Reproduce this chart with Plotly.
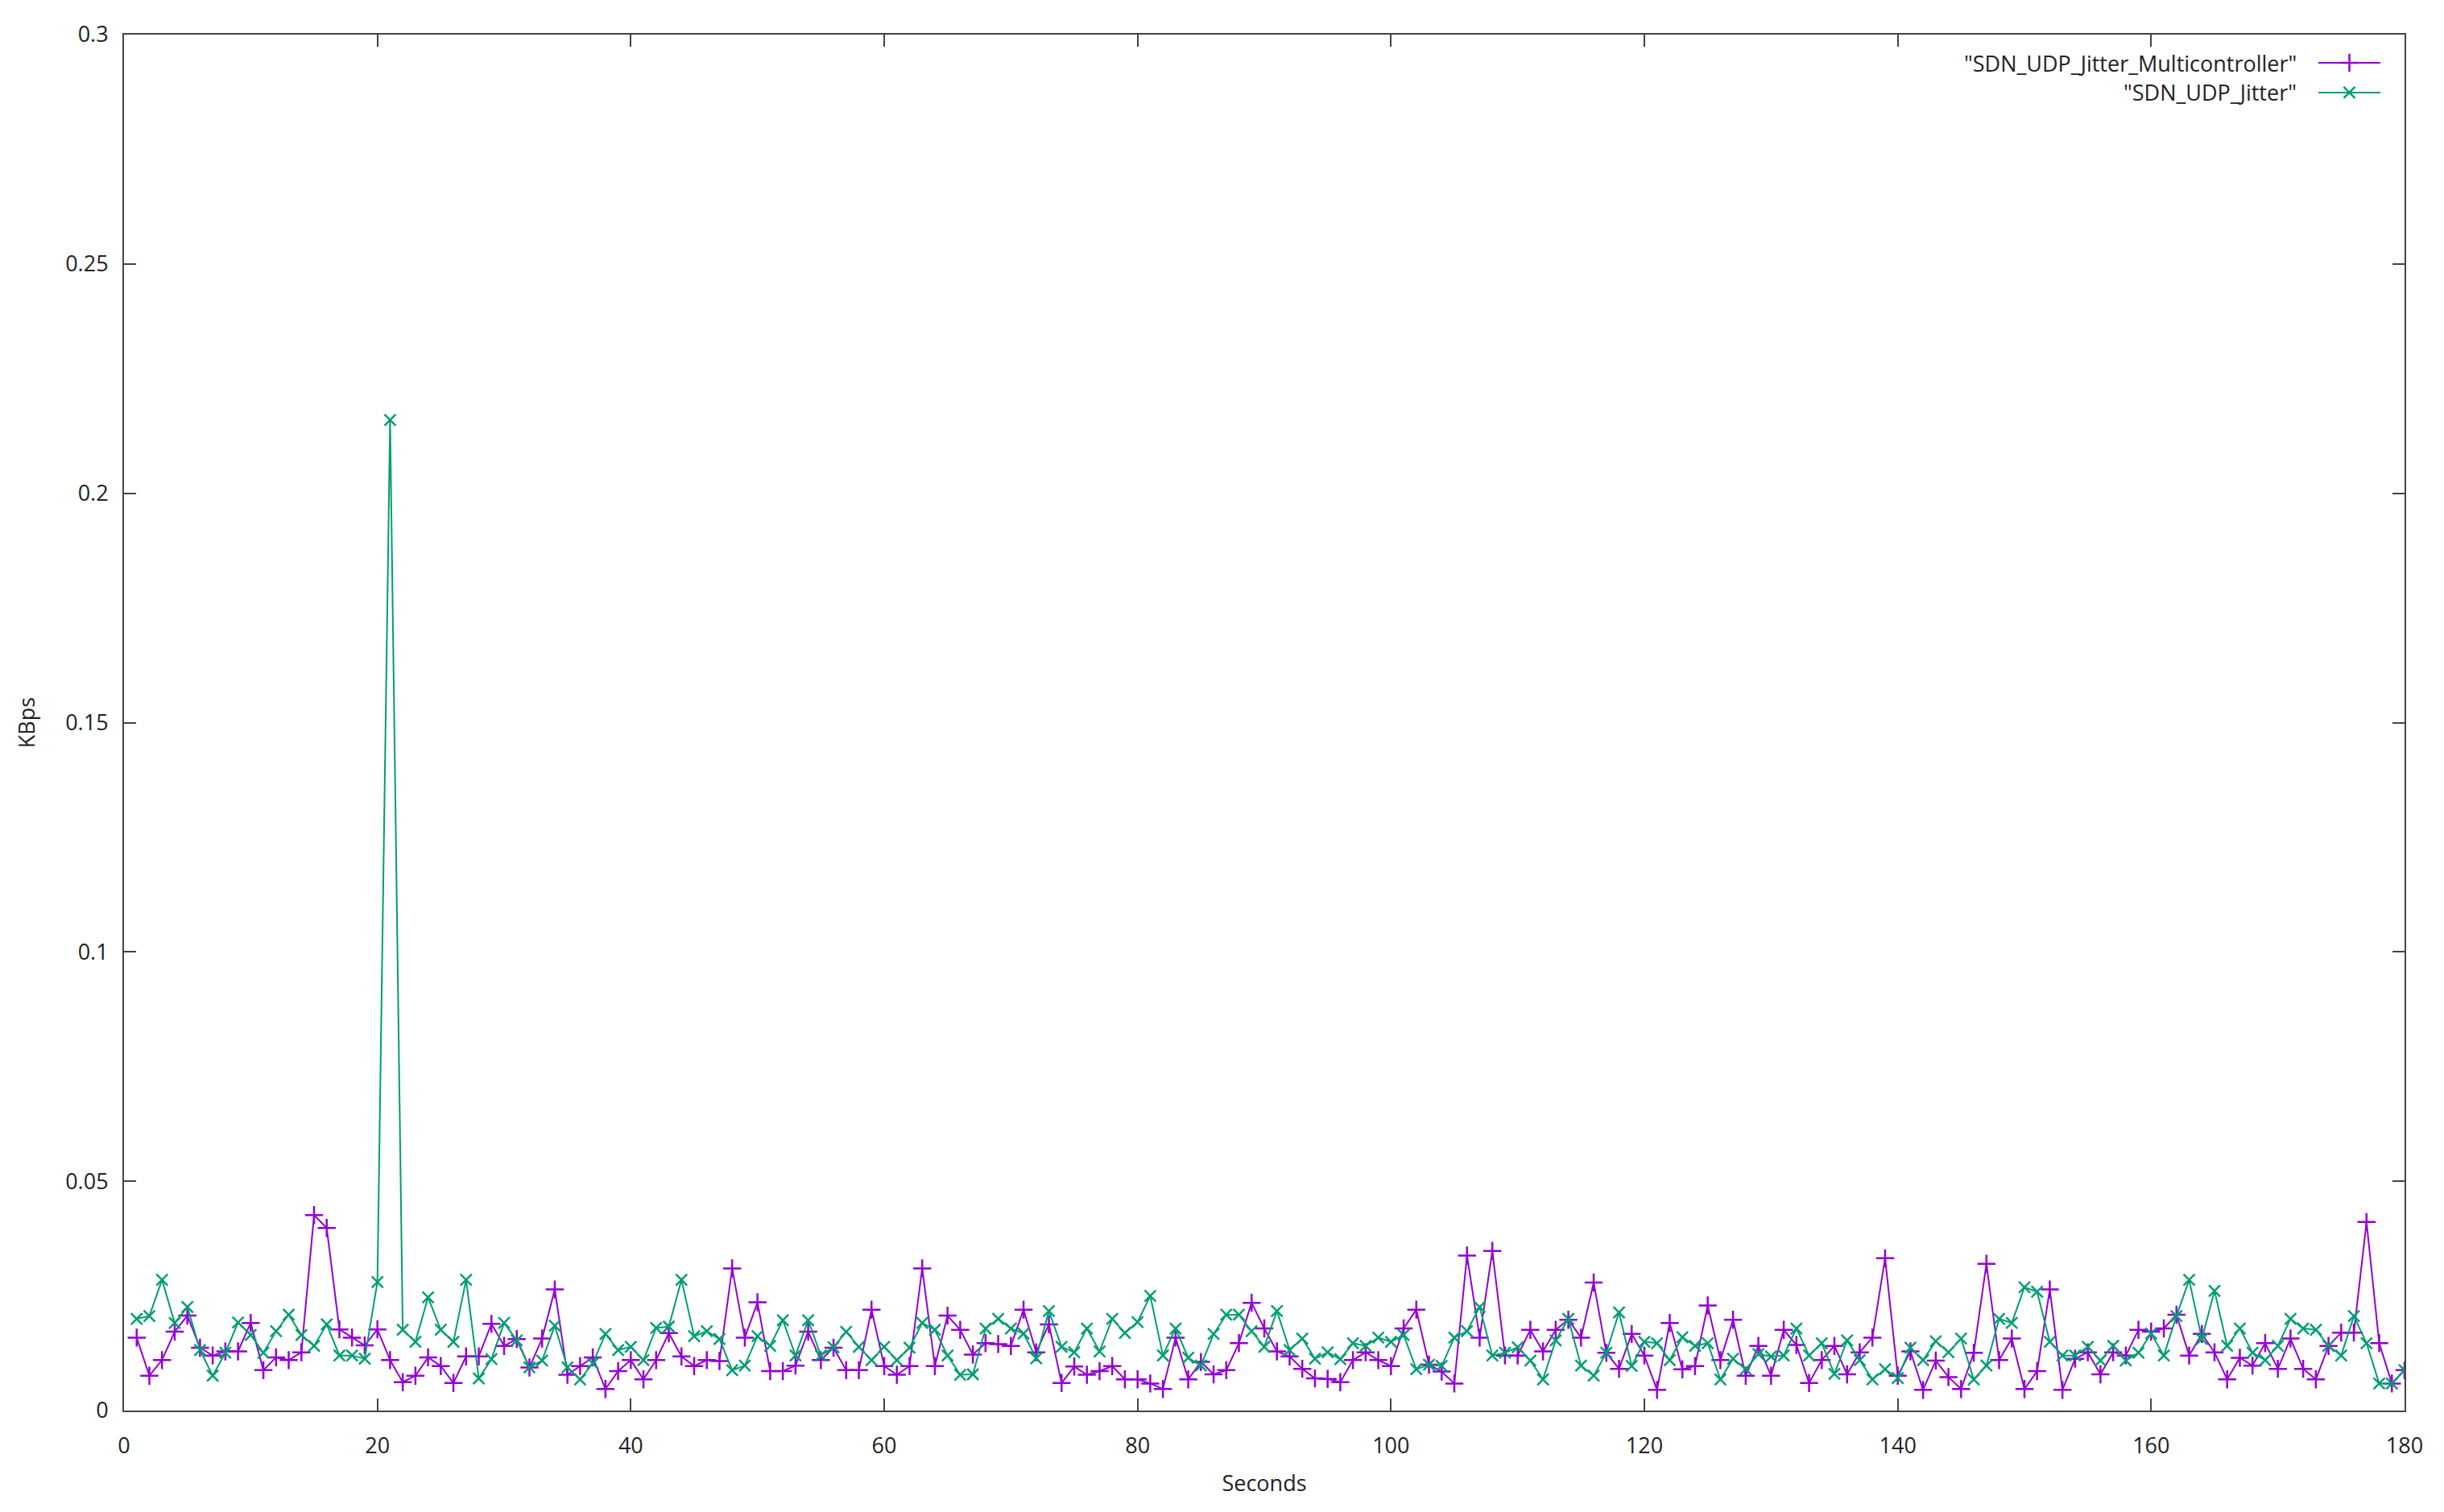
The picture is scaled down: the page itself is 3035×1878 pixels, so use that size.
import plotly.graph_objects as go

# seconds 1..180, jitter values (KBps)
seconds = list(range(1, 181))

jitter_multicontroller = [
    0.0159, 0.0076, 0.0110, 0.0172, 0.0207, 0.0137, 0.0120, 0.0129, 0.0129, 0.0191,
    0.0088, 0.0116, 0.0110, 0.0127, 0.0426, 0.0398, 0.0177, 0.0159, 0.0142, 0.0177,
    0.0110, 0.0062, 0.0076, 0.0116, 0.0097, 0.0060, 0.0118, 0.0118, 0.0189, 0.0141,
    0.0156, 0.0094, 0.0157, 0.0264, 0.0078, 0.0097, 0.0116, 0.0047, 0.0086, 0.0110,
    0.0068, 0.0110, 0.0169, 0.0118, 0.0097, 0.0110, 0.0108, 0.0310, 0.0159, 0.0236,
    0.0086, 0.0086, 0.0098, 0.0172, 0.0110, 0.0137, 0.0088, 0.0088, 0.0220, 0.0097,
    0.0078, 0.0097, 0.0310, 0.0097, 0.0207, 0.0176, 0.0122, 0.0147, 0.0145, 0.0141,
    0.0220, 0.0127, 0.0188, 0.0060, 0.0096, 0.0078, 0.0086, 0.0097, 0.0068, 0.0068,
    0.0059, 0.0047, 0.0159, 0.0068, 0.0106, 0.0079, 0.0088, 0.0147, 0.0235, 0.0179,
    0.0129, 0.0118, 0.0091, 0.0070, 0.0069, 0.0062, 0.0110, 0.0127, 0.0110, 0.0097,
    0.0179, 0.0220, 0.0100, 0.0085, 0.0059, 0.0338, 0.0159, 0.0348, 0.0120, 0.0120,
    0.0176, 0.0129, 0.0176, 0.0198, 0.0159, 0.0279, 0.0126, 0.0091, 0.0167, 0.0120,
    0.0045, 0.0191, 0.0090, 0.0097, 0.0229, 0.0110, 0.0198, 0.0076, 0.0141, 0.0076,
    0.0176, 0.0143, 0.0060, 0.0110, 0.0141, 0.0079, 0.0127, 0.0159, 0.0332, 0.0076,
    0.0129, 0.0045, 0.0109, 0.0073, 0.0047, 0.0126, 0.0320, 0.0110, 0.0157, 0.0047,
    0.0086, 0.0264, 0.0045, 0.0113, 0.0127, 0.0079, 0.0127, 0.0120, 0.0176, 0.0172,
    0.0179, 0.0209, 0.0120, 0.0167, 0.0127, 0.0068, 0.0115, 0.0098, 0.0147, 0.0091,
    0.0157, 0.0091, 0.0068, 0.0141, 0.0170, 0.0170, 0.0411, 0.0147, 0.0059, 0.0088,
]

jitter_single = [
    0.0200, 0.0206, 0.0285, 0.0191, 0.0226, 0.0132, 0.0076, 0.0126, 0.0192, 0.0165,
    0.0126, 0.0173, 0.0209, 0.0165, 0.0141, 0.0188, 0.0120, 0.0120, 0.0113, 0.0280,
    0.2160, 0.0176, 0.0150, 0.0247, 0.0176, 0.0150, 0.0285, 0.0070, 0.0112, 0.0191,
    0.0153, 0.0094, 0.0109, 0.0185, 0.0094, 0.0068, 0.0103, 0.0167, 0.0132, 0.0139,
    0.0110, 0.0180, 0.0183, 0.0285, 0.0162, 0.0173, 0.0156, 0.0088, 0.0098, 0.0162,
    0.0141, 0.0197, 0.0120, 0.0197, 0.0120, 0.0138, 0.0172, 0.0139, 0.0110, 0.0139,
    0.0110, 0.0137, 0.0191, 0.0176, 0.0120, 0.0078, 0.0079, 0.0179, 0.0200, 0.0179,
    0.0168, 0.0114, 0.0217, 0.0139, 0.0127, 0.0179, 0.0129, 0.0200, 0.0169, 0.0193,
    0.0250, 0.0120, 0.0179, 0.0115, 0.0098, 0.0167, 0.0209, 0.0209, 0.0173, 0.0139,
    0.0217, 0.0132, 0.0157, 0.0113, 0.0127, 0.0112, 0.0147, 0.0141, 0.0159, 0.0150,
    0.0165, 0.0090, 0.0100, 0.0097, 0.0159, 0.0173, 0.0226, 0.0120, 0.0126, 0.0138,
    0.0109, 0.0068, 0.0153, 0.0200, 0.0098, 0.0076, 0.0126, 0.0214, 0.0097, 0.0150,
    0.0147, 0.0110, 0.0160, 0.0141, 0.0147, 0.0068, 0.0113, 0.0090, 0.0123, 0.0118,
    0.0120, 0.0179, 0.0120, 0.0147, 0.0080, 0.0153, 0.0110, 0.0068, 0.0090, 0.0071,
    0.0137, 0.0110, 0.0151, 0.0127, 0.0157, 0.0068, 0.0098, 0.0200, 0.0191, 0.0269,
    0.0259, 0.0150, 0.0120, 0.0120, 0.0139, 0.0109, 0.0141, 0.0109, 0.0126, 0.0168,
    0.0120, 0.0206, 0.0285, 0.0156, 0.0261, 0.0141, 0.0179, 0.0126, 0.0110, 0.0141,
    0.0200, 0.0179, 0.0176, 0.0141, 0.0120, 0.0206, 0.0147, 0.0059, 0.0059, 0.0088,
]

series_names = ['"SDN_UDP_Jitter_Multicontroller"', '"SDN_UDP_Jitter"']
x_ticks = [0, 20, 40, 60, 80, 100, 120, 140, 160, 180]
y_ticks = [0, 0.05, 0.1, 0.15, 0.2, 0.25, 0.3]

PURPLE = "#9400D3"
GREEN = "#009E73"
FONT = "Open Sans"
FRAME = "#444444"

fig = go.Figure()
fig.add_trace(go.Scatter(
    x=seconds, y=jitter_multicontroller, mode="lines+markers",
    line=dict(color=PURPLE, width=2),
    marker=dict(symbol="cross-thin", size=16, line=dict(color=PURPLE, width=2.5)),
    showlegend=False,
))
fig.add_trace(go.Scatter(
    x=seconds, y=jitter_single, mode="lines+markers",
    line=dict(color=GREEN, width=2),
    marker=dict(symbol="x-thin", size=14, line=dict(color=GREEN, width=2.5)),
    showlegend=False,
))

# gnuplot-style key: right-aligned text, sample to its right
key_text_x = 0.9534
key_line = (0.9622, 0.9894)
key_rows = [0.9795, 0.9579]
key_styles = [(PURPLE, "cross-thin", 16), (GREEN, "x-thin", 14)]
annotations = []
shapes = []
for name, ky, (col, sym, sz) in zip(series_names, key_rows, key_styles):
    annotations.append(dict(
        x=key_text_x, y=ky, xref="paper", yref="paper", text=name,
        showarrow=False, xanchor="right", yanchor="middle",
        font=dict(family=FONT, size=27, color="#222222"),
    ))
    shapes.append(dict(
        type="line", xref="paper", yref="paper",
        x0=key_line[0], x1=key_line[1], y0=ky, y1=ky,
        line=dict(color=col, width=2),
    ))
    fig.add_trace(go.Scatter(
        x=[(key_line[0] + key_line[1]) / 2], y=[ky], xaxis="x2", yaxis="y2",
        mode="markers", showlegend=False, hoverinfo="skip",
        marker=dict(symbol=sym, size=sz, line=dict(color=col, width=2.5)),
    ))

axis_common = dict(
    showline=True, linecolor=FRAME, linewidth=2, mirror="ticks",
    ticks="inside", ticklen=15, tickwidth=2, tickcolor=FRAME,
    showgrid=False, zeroline=False,
    tickfont=dict(family=FONT, size=27, color="#222222"),
)

# page body adds an 8px offset, so margins are shifted to compensate
fig.update_layout(
    width=3035, height=1878,
    margin=dict(l=146, r=57, t=35, b=134),
    paper_bgcolor="white", plot_bgcolor="white",
    font=dict(family=FONT, size=27, color="#222222"),
    xaxis=dict(
        range=[0, 180], tickvals=x_ticks, ticklabelstandoff=19,
        title=dict(text="Seconds", standoff=21, font=dict(family=FONT, size=27)),
        **axis_common,
    ),
    yaxis=dict(
        range=[0, 0.3], tickvals=y_ticks, ticklabelstandoff=12,
        title=dict(text="KBps", standoff=30, font=dict(family=FONT, size=27)),
        **axis_common,
    ),
    xaxis2=dict(overlaying="x", range=[0, 1], visible=False),
    yaxis2=dict(overlaying="y", range=[0, 1], visible=False),
    annotations=annotations,
    shapes=shapes,
)

fig.write_html("out.html")
